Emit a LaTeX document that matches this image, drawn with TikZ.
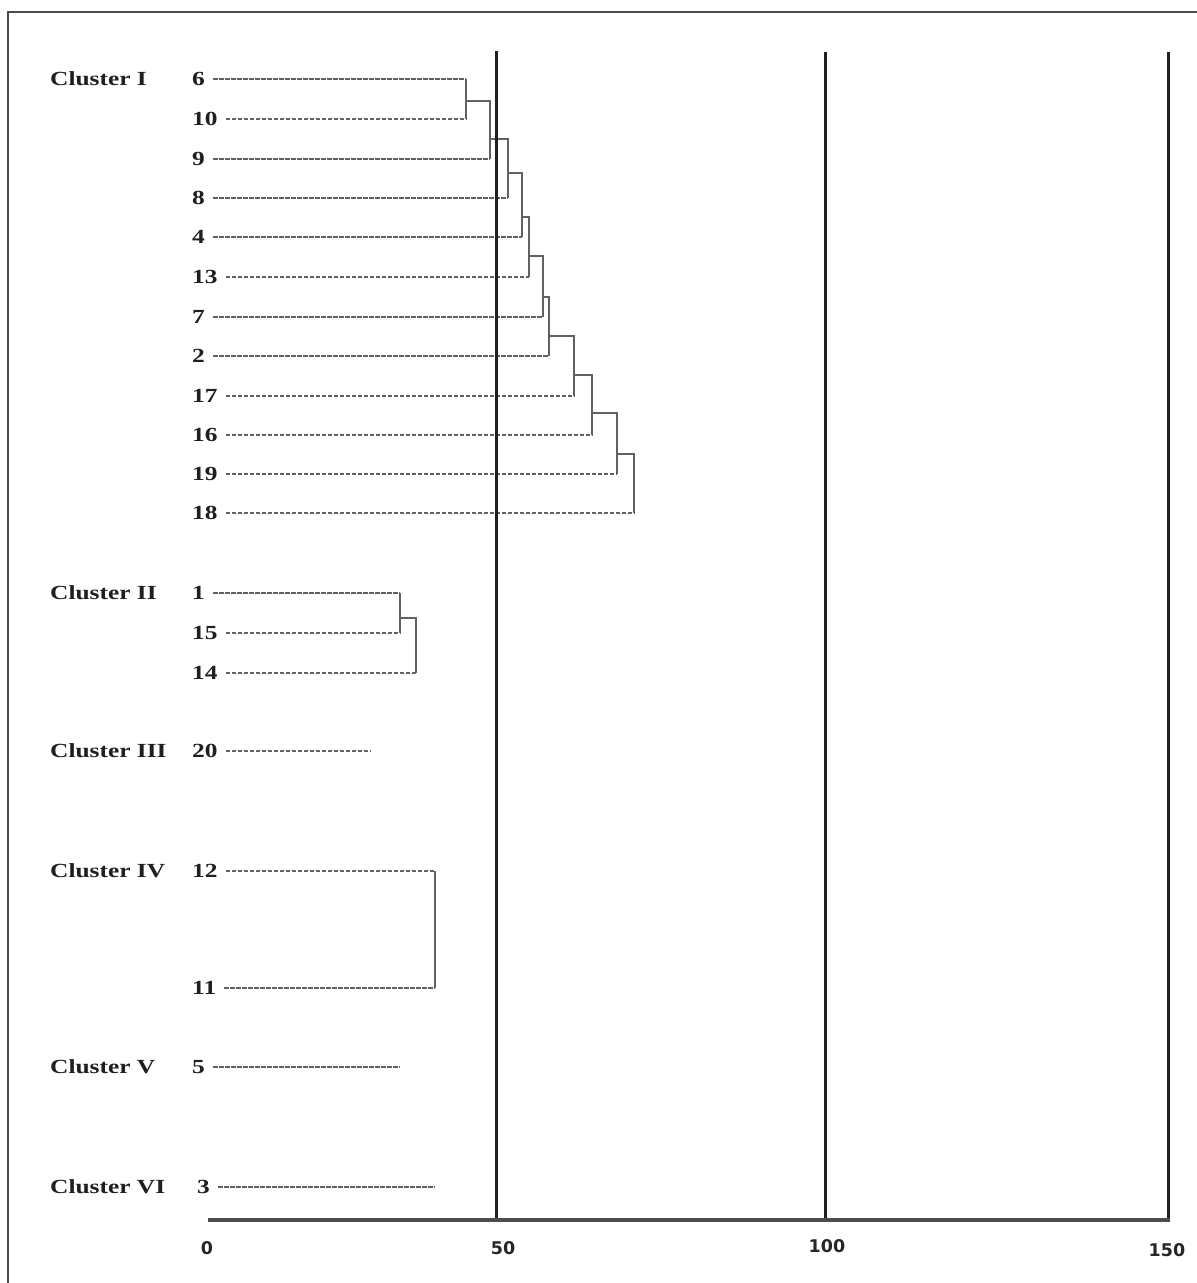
\documentclass[tikz,border=0pt]{standalone}
\usepackage{fontspec}
\setmainfont{Liberation Serif}
\newfontfamily\axisfont{DejaVu Sans}
\newcommand\stretchtxt[1]{\scalebox{1.27}[1]{#1}}
\tikzset{
  clab/.style={anchor=west, inner sep=0pt, text=black!88,
    font=\bfseries\fontsize{20}{20}\selectfont},
  num/.style={anchor=west, inner sep=0pt, text=black!88,
    font=\bfseries\fontsize{20}{20}\selectfont},
  tick/.style={inner sep=0pt, text=black!85,
    font=\axisfont\bfseries\fontsize{17.5}{17.5}\selectfont},
  leaf/.style={draw=black!62, line width=2.2pt, dash pattern=on 4.5pt off 1.5pt},
  joinln/.style={draw=black!62, line width=2.4pt},
  refline/.style={draw=black!88, line width=3pt},
  axisln/.style={draw=black!70, line width=3.4pt},
  frameln/.style={draw=black!70, line width=1.5pt}
}
\begin{document}
\begin{tikzpicture}[x=1pt,y=-1pt]
\useasboundingbox (0,0) rectangle (1197,1283);
\fill[white] (0,0) rectangle (1197,1283);
% frame
\coordinate (fl) at (8,1283);
\coordinate (fc) at (8,12);
\coordinate (fr) at (1197,12);
\draw[frameln] (fl) -- (fc) -- (fr);

% cluster labels
\node[clab] (c1) at (50,79) {\stretchtxt{Cluster I}};
\node[clab] (c2) at (50,593) {\stretchtxt{Cluster II}};
\node[clab] (c3) at (50,751) {\stretchtxt{Cluster III}};
\node[clab] (c4) at (50,871) {\stretchtxt{Cluster IV}};
\node[clab] (c5) at (50,1067) {\stretchtxt{Cluster V}};
\node[clab] (c6) at (50,1187) {\stretchtxt{Cluster VI}};

% leaves
\foreach \n/\y/\xe/\xs in {6/79/466/192, 10/119/466/192, 9/159/490/192, 8/198/508/192,
  4/237/522/192, 13/277/529/192, 7/317/543/192, 2/356/549/192, 17/396/574/192,
  16/435/592/192, 19/474/617/192, 18/513/634/192,
  1/593/400/192, 15/633/400/192, 14/673/416/192, 20/751/370/192,
  12/871/435/192, 11/988/435/192, 5/1067/400/192, 3/1187/435/197}{
  \node[num] (n\n) at (\xs,\y) {\stretchtxt{\n}};
  \coordinate (e\n) at (\xe,\y);
  \draw[leaf] ([xshift=8pt]n\n.east) -- (e\n);
}

% merge points of cluster I
\coordinate (a1) at (466,101);  \coordinate (b1) at (490,101);
\coordinate (a2) at (490,139);  \coordinate (b2) at (508,139);
\coordinate (a3) at (508,173);  \coordinate (b3) at (522,173);
\coordinate (a4) at (522,217);  \coordinate (b4) at (529,217);
\coordinate (a5) at (529,256);  \coordinate (b5) at (543,256);
\coordinate (a6) at (543,297);  \coordinate (b6) at (549,297);
\coordinate (a7) at (549,336);  \coordinate (b7) at (574,336);
\coordinate (a8) at (574,375);  \coordinate (b8) at (592,375);
\coordinate (a9) at (592,413);  \coordinate (b9) at (617,413);
\coordinate (a10) at (617,454); \coordinate (b10) at (634,454);

\draw[joinln] (e6) -- (e10);
\draw[joinln] (a1) -- (b1) -- (e9);
\draw[joinln] (a2) -- (b2) -- (e8);
\draw[joinln] (a3) -- (b3) -- (e4);
\draw[joinln] (a4) -- (b4) -- (e13);
\draw[joinln] (a5) -- (b5) -- (e7);
\draw[joinln] (a6) -- (b6) -- (e2);
\draw[joinln] (a7) -- (b7) -- (e17);
\draw[joinln] (a8) -- (b8) -- (e16);
\draw[joinln] (a9) -- (b9) -- (e19);
\draw[joinln] (a10) -- (b10) -- (e18);

% cluster II
\coordinate (p1) at (400,618); \coordinate (q1) at (416,618);
\draw[joinln] (e1) -- (e15);
\draw[joinln] (p1) -- (q1) -- (e14);

% cluster IV
\draw[joinln] (e12) -- (e11);

% reference lines and axis
\coordinate (ax0) at (208,1220);
\coordinate (ax50) at (496,1220);
\coordinate (ax100) at (825,1220);
\coordinate (ax150) at (1168,1220);
\coordinate (top50) at (496,51);
\coordinate (top100) at (825,52);
\coordinate (top150) at (1168,52);
\draw[refline] (top50) -- (ax50);
\draw[refline] (top100) -- (ax100);
\draw[refline] (top150) -- (ax150);
\draw[axisln] (ax0) -- ([xshift=2pt]ax150);

\node[tick] (t0) at (207,1248) {0};
\node[tick] (t50) at (503,1248) {50};
\node[tick] (t100) at (827,1246) {100};
\node[tick] (t150) at (1167,1250) {150};
\end{tikzpicture}
\end{document}
